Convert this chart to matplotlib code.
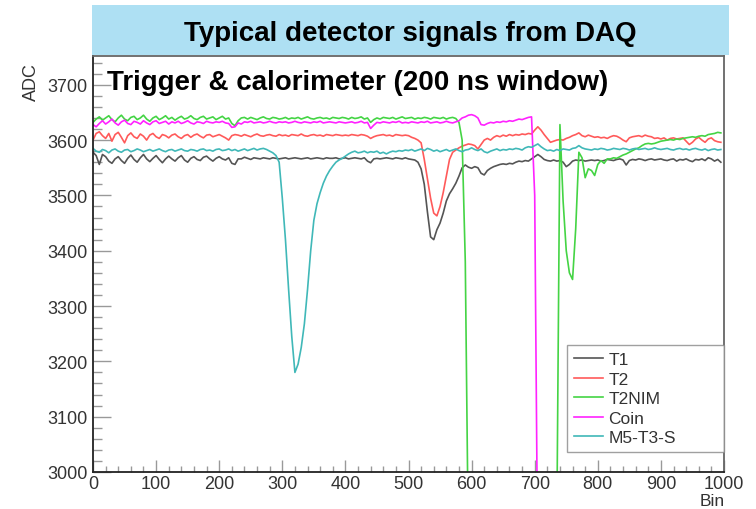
import matplotlib
matplotlib.use("Agg")
import matplotlib.pyplot as plt
from matplotlib.ticker import MultipleLocator
from matplotlib.patches import Rectangle

plt.rcParams['font.family'] = ['Liberation Sans', 'DejaVu Sans']

# ---------------- data ----------------
bins = list(range(0, 1000, 5))  # 200 samples, 0..995

t1 = [3578, 3572, 3556, 3574, 3570, 3562, 3558, 3566, 3570, 3563, 3558, 3567, 3573, 3565, 3560, 3568, 3574, 3566, 3561, 3567,
      3572, 3565, 3559, 3566, 3571, 3566, 3562, 3568, 3572, 3564, 3560, 3567, 3570, 3565, 3563, 3569, 3571, 3566, 3562, 3567,
      3570, 3566, 3564, 3568, 3558, 3556, 3566, 3566, 3569, 3567, 3565, 3568, 3567, 3566, 3568, 3567, 3566, 3568, 3567, 3566,
      3567, 3568, 3566, 3567, 3568, 3567, 3566, 3567, 3568, 3566, 3567, 3568, 3567, 3566, 3568, 3567, 3567, 3568, 3566, 3567,
      3568, 3566, 3567, 3568, 3567, 3566, 3568, 3562, 3559, 3566, 3567, 3566, 3567, 3568, 3567, 3566, 3568, 3567, 3566, 3568,
      3566, 3565, 3564, 3560, 3548, 3520, 3470, 3425, 3420, 3438, 3450, 3468, 3490, 3503, 3512, 3522, 3535, 3550, 3555, 3551,
      3549, 3552, 3550, 3540, 3537, 3545, 3549, 3552, 3554, 3556, 3557, 3556, 3558, 3557, 3560, 3562, 3561, 3563, 3562, 3566,
      3570, 3574, 3570, 3565, 3563, 3562, 3564, 3562, 3563, 3560, 3552, 3556, 3562, 3564, 3563, 3564, 3562, 3563, 3564, 3563,
      3564, 3562, 3563, 3565, 3564, 3563, 3565, 3566, 3564, 3555, 3563, 3565, 3564, 3566, 3565, 3563, 3565, 3566, 3564, 3565,
      3566, 3564, 3563, 3565, 3566, 3562, 3565, 3564, 3566, 3563, 3561, 3565, 3564, 3566, 3563, 3568, 3566, 3562, 3565, 3560]

t2 = [3600, 3612, 3615, 3608, 3603, 3612, 3598, 3610, 3614, 3605, 3595, 3608, 3613, 3606, 3603, 3611, 3607, 3600, 3609, 3612,
      3606, 3603, 3610, 3608, 3604, 3609, 3611, 3606, 3603, 3608, 3610, 3605, 3609, 3611, 3607, 3604, 3609, 3610, 3606, 3608,
      3610, 3607, 3604, 3600, 3608, 3610, 3609, 3607, 3610, 3608, 3606, 3609, 3611, 3608, 3607, 3609, 3610, 3608, 3607, 3610,
      3608, 3609, 3607, 3610, 3609, 3608, 3611, 3608, 3607, 3609, 3610, 3608, 3609, 3607, 3610, 3609, 3608, 3610, 3609, 3608,
      3609, 3608, 3610, 3609, 3608, 3610, 3609, 3607, 3603, 3606, 3608, 3609, 3610, 3608, 3609, 3607, 3610, 3609, 3608, 3609,
      3608, 3605, 3603, 3600, 3595, 3565, 3530, 3495, 3468, 3463, 3480, 3505, 3535, 3565, 3578, 3582, 3586, 3589, 3591, 3593,
      3592, 3590, 3584, 3592, 3600, 3603, 3600, 3605, 3608, 3606, 3609, 3607, 3610, 3608, 3610, 3609, 3611, 3610, 3612, 3611,
      3618, 3624, 3618, 3610, 3603, 3596, 3598, 3600, 3601, 3600, 3603, 3605, 3608, 3610, 3613, 3608, 3606, 3609, 3607, 3605,
      3606, 3604, 3605, 3603, 3606, 3608, 3607, 3604, 3600, 3597, 3604, 3606, 3607, 3608, 3606, 3609, 3607, 3606, 3603, 3604,
      3602, 3604, 3600, 3603, 3604, 3602, 3603, 3604, 3598, 3592, 3596, 3602, 3605, 3600, 3596, 3602, 3604, 3599, 3597, 3596]

t2nim = [3632, 3638, 3642, 3636, 3640, 3644, 3637, 3633, 3640, 3645, 3638, 3635, 3641, 3643, 3637, 3640, 3645, 3638, 3634, 3640,
         3643, 3637, 3640, 3644, 3638, 3641, 3636, 3640, 3643, 3638, 3640, 3644, 3639, 3637, 3641, 3643, 3638, 3640, 3642, 3637,
         3640, 3643, 3638, 3640, 3630, 3626, 3635, 3640, 3641, 3638, 3641, 3639, 3637, 3640, 3642, 3639, 3638, 3641, 3640, 3638,
         3639, 3641, 3638, 3640, 3639, 3641, 3638, 3640, 3642, 3639, 3638, 3640, 3641, 3639, 3640, 3638, 3641, 3640, 3639, 3641,
         3640, 3638, 3641, 3639, 3640, 3642, 3638, 3640, 3632, 3637, 3640, 3638, 3641, 3640, 3639, 3641, 3638, 3640, 3642, 3639,
         3640, 3641, 3638, 3640, 3639, 3641, 3640, 3638, 3641, 3640, 3639, 3641, 3638, 3640, 3641, 3639, 3632, 3600, 3380, 2850,
         2000, 2000, 2000, 2000, 2000, 2000, 2000, 2000, 2000, 2000, 2000, 2000, 2000, 2000, 2000, 2000, 2000, 2000, 2000, 2000,
         2000, 2000, 2000, 2000, 2000, 2000, 2000, 2900, 3628, 3490, 3400, 3360, 3348, 3440, 3578, 3568, 3532, 3548, 3545, 3536,
         3556, 3563, 3558, 3566, 3566, 3568, 3567, 3570, 3573, 3575, 3578, 3581, 3584, 3586, 3590, 3593, 3594, 3593, 3594, 3596,
         3598, 3599, 3600, 3601, 3600, 3602, 3601, 3603, 3604, 3605, 3606, 3605, 3607, 3608, 3607, 3610, 3611, 3612, 3614, 3613]

coin = [3628, 3624, 3630, 3635, 3629, 3633, 3638, 3631, 3627, 3633, 3636, 3630, 3628, 3634, 3632, 3629, 3635, 3631, 3628, 3633,
        3635, 3630, 3632, 3634, 3629, 3633, 3631, 3634, 3630, 3632, 3635, 3631, 3629, 3633, 3632, 3630, 3634, 3632, 3631, 3633,
        3632, 3634, 3631, 3630, 3623, 3624, 3631, 3629, 3633, 3632, 3634, 3631, 3632, 3633, 3631, 3632, 3634, 3632, 3631, 3633,
        3632, 3633, 3631, 3632, 3634, 3632, 3631, 3633, 3632, 3631, 3633, 3632, 3634, 3631, 3632, 3633, 3632, 3631, 3633, 3632,
        3631, 3632, 3633, 3631, 3632, 3634, 3631, 3632, 3621, 3627, 3632, 3631, 3633, 3632, 3631, 3633, 3632, 3634, 3631, 3632,
        3631, 3633, 3632, 3631, 3633, 3632, 3634, 3631, 3632, 3633, 3631, 3632, 3634, 3632, 3631, 3633, 3635, 3640, 3642, 3645,
        3646, 3644, 3640, 3628, 3627, 3630, 3632, 3631, 3633, 3632, 3634, 3633, 3635, 3634, 3636, 3638, 3637, 3639, 3641, 3642,
        3500, 2800, 2000, 2000, 2000, 2000, 2000, 2000, 2000, 2000, 2000, 2000, 2000, 2000, 2000, 2000, 2000, 2000, 2000, 2000,
        2000, 2000, 2000, 2000, 2000, 2000, 2000, 2000, 2000, 2000, 2000, 2000, 2000, 2000, 2000, 2000, 2000, 2000, 2000, 2000,
        2000, 2000, 2000, 2000, 2000, 2000, 2000, 2000, 2000, 2000, 2000, 2000, 2000, 2000, 2000, 2000, 2000, 2000, 2000, 2000]

m5t3s = [3585, 3580, 3578, 3583, 3581, 3577, 3582, 3584, 3580, 3578, 3582, 3583, 3579, 3581, 3584, 3582, 3579, 3581, 3583, 3580,
         3582, 3584, 3581, 3579, 3582, 3583, 3580, 3582, 3584, 3581, 3580, 3583, 3582, 3580, 3583, 3584, 3581, 3582, 3580, 3583,
         3584, 3581, 3582, 3584, 3581, 3583, 3580, 3582, 3584, 3581, 3583, 3585, 3582, 3584, 3585, 3583, 3580, 3577, 3572, 3560,
         3495, 3420, 3330, 3245, 3180, 3195, 3225, 3268, 3330, 3400, 3455, 3485, 3505, 3522, 3535, 3545, 3553, 3560, 3564, 3567,
         3571, 3575, 3578, 3580, 3577, 3578, 3580, 3577, 3579, 3578, 3580, 3576, 3578, 3575, 3578, 3580, 3579, 3581, 3580, 3582,
         3581, 3583, 3580, 3582, 3584, 3581, 3585, 3583, 3580, 3582, 3579, 3581, 3583, 3580, 3582, 3584, 3581, 3579, 3582, 3583,
         3586, 3583, 3581, 3584, 3579, 3577, 3580, 3582, 3584, 3581, 3583, 3582, 3584, 3583, 3585, 3584, 3582, 3586, 3588, 3587,
         3590, 3593, 3588, 3584, 3581, 3582, 3580, 3583, 3581, 3584, 3583, 3582, 3585, 3586, 3590, 3586, 3584, 3583, 3582, 3584,
         3583, 3585, 3584, 3582, 3583, 3585, 3584, 3583, 3585, 3584, 3582, 3584, 3585, 3583, 3584, 3585, 3583, 3584, 3586, 3584,
         3583, 3584, 3585, 3583, 3582, 3584, 3585, 3583, 3584, 3582, 3584, 3585, 3583, 3582, 3584, 3581, 3583, 3584, 3582, 3583]

series_names = ["T1", "T2", "T2NIM", "Coin", "M5-T3-S"]
series_values = [t1, t2, t2nim, coin, m5t3s]
series_colors = ["#555555", "#ff5a5a", "#44d444", "#ff22ff", "#40b8b8"]

title = "Typical detector signals from DAQ"
subtitle = "Trigger & calorimeter (200 ns window)"
x_label = "Bin"
y_label = "ADC"
x_ticks = [0, 100, 200, 300, 400, 500, 600, 700, 800, 900, 1000]
y_ticks = [3000, 3100, 3200, 3300, 3400, 3500, 3600, 3700]

# ---------------- figure ----------------
W, H = 756, 510
fig = plt.figure(figsize=(W / 100, H / 100), dpi=100)
ax = fig.add_axes([93 / W, 1 - 473 / H, 631 / W, 416 / H])

for name, vals, col in zip(series_names, series_values, series_colors):
    ax.plot(bins, vals, color=col, lw=1.2, label=name)

ax.set_xlim(0, 1000)
ax.set_ylim(3000, 3752)
ax.set_xticks(x_ticks)
ax.set_yticks(y_ticks)
ax.xaxis.set_minor_locator(MultipleLocator(20))
ax.yaxis.set_minor_locator(MultipleLocator(20))
ax.tick_params(axis='x', which='major', direction='in', length=8.6, width=1, color='#999999',
               labelsize=13, labelcolor='#333333', pad=2.5)
ax.tick_params(axis='x', which='minor', direction='in', length=4.3, width=1, color='#999999')
ax.tick_params(axis='y', which='major', direction='in', length=13, width=1, color='#999999',
               labelsize=13, labelcolor='#333333', pad=4)
ax.tick_params(axis='y', which='minor', direction='in', length=6.5, width=1, color='#999999')

for s in ['left', 'bottom']:
    ax.spines[s].set_color('#222222')
    ax.spines[s].set_linewidth(1.3)
for s in ['top', 'right']:
    ax.spines[s].set_color('#666666')
    ax.spines[s].set_linewidth(1.3)

# title box
fig.patches.append(Rectangle((92 / W, 1 - 56 / H), 637 / W, 50 / H, transform=fig.transFigure,
                             facecolor='#aee0f3', edgecolor='none', zorder=0))
fig.text(410.5 / W, 1 - 41 / H, title, ha='center', va='baseline', fontsize=20, fontweight='bold', color='black')

# subtitle inside plot
fig.text(107 / W, 1 - 90.5 / H, subtitle, ha='left', va='baseline', fontsize=20, fontweight='bold', color='black')

# axis titles
fig.text(725 / W, 1 - 506.5 / H, x_label, ha='right', va='baseline', fontsize=12.5, color='#333333')
fig.text(31 / W, 1 - 63 / H, y_label, ha='center', va='top', rotation=90, fontsize=13, color='#333333')

leg = ax.legend(loc='upper left', bbox_to_anchor=(0.751, 0.05, 0.249, 0.255), mode='expand',
                borderaxespad=0, frameon=True, fancybox=False, edgecolor='#888888', fontsize=12.5,
                handlelength=1.7, handletextpad=0.3, labelspacing=0.25, borderpad=0.4)
leg.get_frame().set_linewidth(1.0)
for t in leg.get_texts():
    t.set_color('#333333')

fig.savefig("out.png", dpi=100)
